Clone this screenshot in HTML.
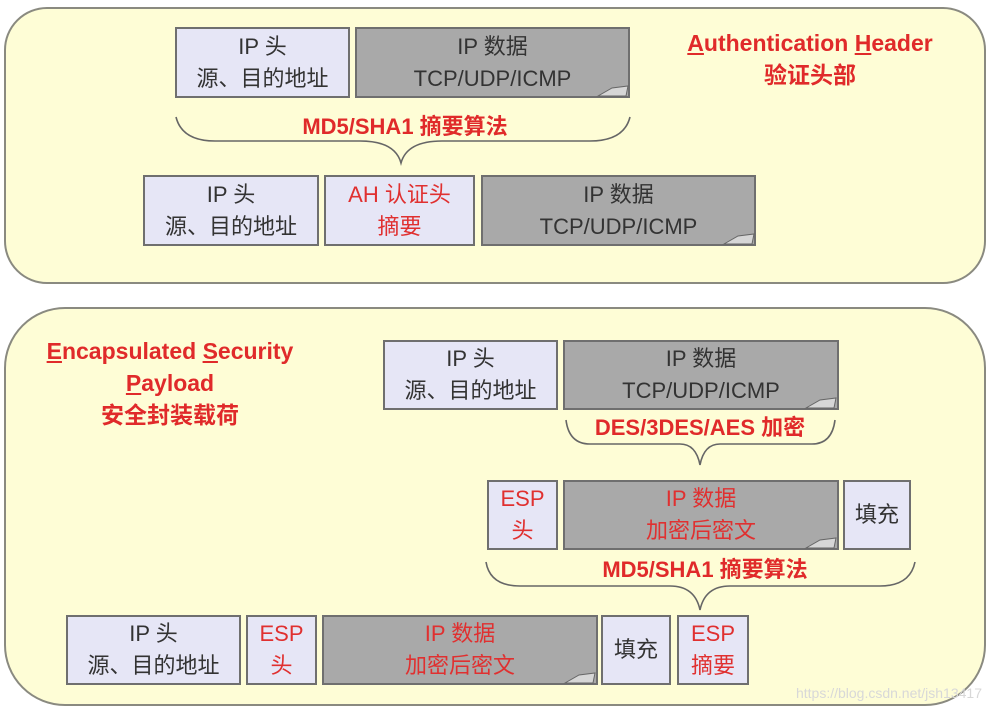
<!DOCTYPE html>
<html><head><meta charset="utf-8"><style>
body{margin:0;width:996px;height:710px;background:#fff;position:relative;overflow:hidden;font-family:"Liberation Sans","Noto Sans CJK SC",sans-serif;}
.b{position:absolute;box-sizing:border-box;border:2px solid #6f6f6f;display:flex;flex-direction:column;justify-content:center;align-items:center;font-size:22px;line-height:32px;color:#333;text-align:center;}
.l{background:#e6e6f6;}
.g{background:#a9a9a9;}
.r{color:#e03030;}
.t{position:absolute;color:#e02a2a;font-weight:bold;font-size:22px;text-align:center;line-height:32px;}
u{text-decoration:underline;}
svg{position:absolute;left:0;top:0;}
</style></head><body>
<svg width="996" height="710">
<rect x="5" y="8" width="980" height="275" rx="42" fill="#fefdd6" stroke="#8a8a80" stroke-width="2"/>
<rect x="5" y="308" width="980" height="397" rx="60" fill="#fefdd6" stroke="#8a8a80" stroke-width="2"/>
<g fill="none" stroke="#666" stroke-width="1.6">
<path d="M176 117 Q182 141 215 141 L360 141 Q395 141 401 163 Q407 141 442 141 L590 141 Q624 141 630 117"/>
<path d="M566 420 Q569 444 590 444 L680 444 Q696 444 700 465 Q704 444 720 444 L812 444 Q832 444 835 420"/>
<path d="M486 562 Q490 586 520 586 L670 586 Q695 586 700 610 Q705 586 730 586 L880 586 Q910 586 915 562"/>
</g>
</svg>
<div class="b l" style="left:175px;top:27px;width:175px;height:71px">IP 头<br>源、目的地址</div>
<div class="b g" style="left:355px;top:27px;width:275px;height:71px">IP 数据<br>TCP/UDP/ICMP</div>
<div class="t" style="left:240px;top:111px;width:330px">MD5/SHA1 摘要算法</div>
<div class="t" style="left:640px;top:27px;width:340px;font-size:23px"><u>A</u>uthentication <u>H</u>eader<br>验证头部</div>
<div class="b l" style="left:143px;top:175px;width:176px;height:71px">IP 头<br>源、目的地址</div>
<div class="b l r" style="left:324px;top:175px;width:151px;height:71px">AH 认证头<br>摘要</div>
<div class="b g" style="left:481px;top:175px;width:275px;height:71px">IP 数据<br>TCP/UDP/ICMP</div>

<div class="t" style="left:25px;top:335px;width:290px;font-size:23px"><u>E</u>ncapsulated <u>S</u>ecurity<br><u>P</u>ayload<br>安全封装载荷</div>
<div class="b l" style="left:383px;top:340px;width:175px;height:70px">IP 头<br>源、目的地址</div>
<div class="b g" style="left:563px;top:340px;width:276px;height:70px">IP 数据<br>TCP/UDP/ICMP</div>
<div class="t" style="left:560px;top:412px;width:280px">DES/3DES/AES 加密</div>
<div class="b l r" style="left:487px;top:480px;width:71px;height:70px">ESP<br>头</div>
<div class="b g r" style="left:563px;top:480px;width:276px;height:70px">IP 数据<br>加密后密文</div>
<div class="b l" style="left:843px;top:480px;width:68px;height:70px">填充</div>
<div class="t" style="left:540px;top:554px;width:330px">MD5/SHA1 摘要算法</div>
<div class="b l" style="left:66px;top:615px;width:175px;height:70px">IP 头<br>源、目的地址</div>
<div class="b l r" style="left:246px;top:615px;width:71px;height:70px">ESP<br>头</div>
<div class="b g r" style="left:322px;top:615px;width:276px;height:70px">IP 数据<br>加密后密文</div>
<div class="b l" style="left:601px;top:615px;width:70px;height:70px">填充</div>
<div class="b l r" style="left:677px;top:615px;width:72px;height:70px">ESP<br>摘要</div>
<svg width="996" height="710">
<g fill="#d6d6d6" stroke="#666" stroke-width="1">
<path d="M598 96 L612 88 L628 86 L626 96 Z"/>
<path d="M724 244 L738 236 L754 234 L752 244 Z"/>
<path d="M806 408 L820 400 L836 398 L834 408 Z"/>
<path d="M806 548 L820 540 L836 538 L834 548 Z"/>
<path d="M565 683 L579 675 L595 673 L593 683 Z"/>
</g>
<text x="982" y="698" text-anchor="end" font-family="Liberation Sans, sans-serif" font-size="14" fill="#d8d8d8">https://blog.csdn.net/jsh13417</text>
</svg>
</body></html>
